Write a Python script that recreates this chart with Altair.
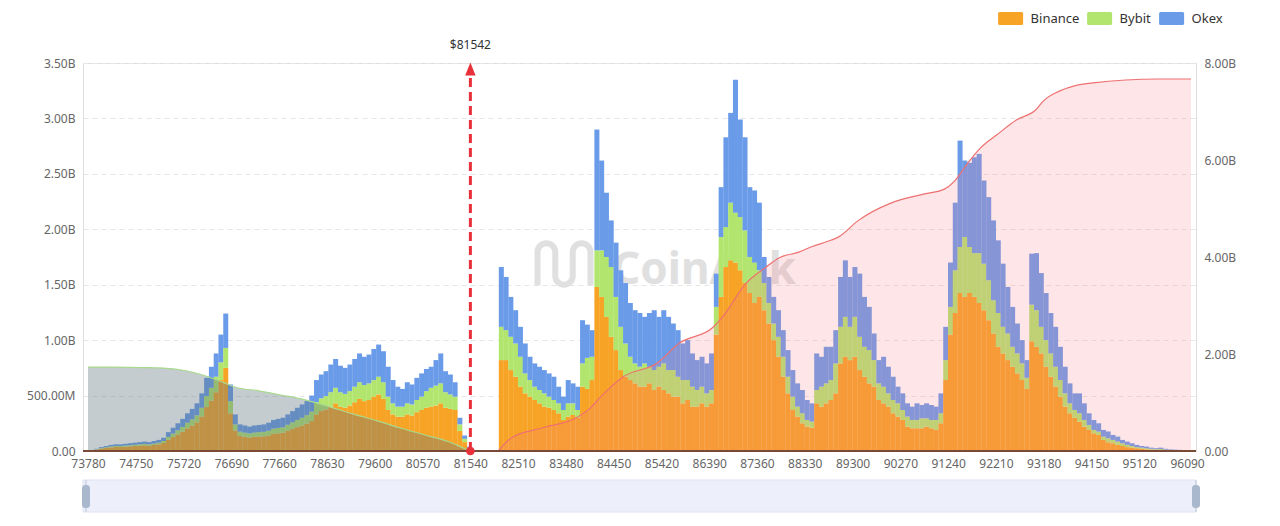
import altair as alt
import pandas as pd

# ---------------- data (values in millions USD) ----------------
EXCHANGES = ["Binance", "Bybit", "Okex"]
COLORS = ["#F7A325", "#B2E56E", "#6A9BE8"]

BIN_STEP = 97
LONG_START = 73860
SHORT_START = 82170
CURRENT_PRICE = 81542

LONG_BINANCE = [
    2, 12, 21, 27, 33, 36, 36, 39, 42, 45,
    48, 51, 48, 54, 60, 72, 102, 126, 150, 174,
    204, 228, 258, 312, 396, 456, 530, 640, 750, 340,
    185, 135, 128, 122, 128, 130, 133, 140, 155, 160,
    165, 182, 198, 215, 230, 248, 270, 330, 360, 375,
    400, 430, 400, 390, 410, 440, 470, 450, 460, 490,
    510, 470, 370, 330, 310, 310, 330, 320, 350, 370,
    390, 400, 410, 430, 390, 380, 370, 180, 80, 22,
    4]
LONG_BYBIT = [
    1, 3, 5, 7, 8, 9, 9, 10, 10, 11,
    12, 13, 12, 13, 15, 18, 25, 31, 37, 43,
    51, 57, 64, 78, 99, 114, 140, 160, 180, 110,
    55, 40, 38, 37, 38, 40, 40, 43, 47, 48,
    50, 55, 60, 65, 70, 75, 85, 110, 115, 120,
    130, 140, 130, 125, 130, 140, 150, 145, 150, 150,
    160, 150, 120, 100, 90, 90, 100, 100, 110, 120,
    150, 170, 180, 180, 140, 130, 120, 60, 30, 8,
    2]
LONG_OKEX = [
    1, 5, 9, 11, 14, 15, 15, 16, 18, 19,
    20, 21, 20, 23, 25, 30, 43, 53, 63, 73,
    85, 95, 108, 130, 165, 190, 210, 250, 310, 150,
    90, 65, 64, 61, 64, 65, 67, 72, 78, 82,
    85, 93, 102, 110, 120, 127, 145, 200, 215, 225,
    250, 260, 240, 235, 240, 250, 260, 255, 260, 280,
    290, 280, 270, 210, 180, 160, 190, 180, 200, 210,
    200, 190, 230, 270, 190, 180, 130, 60, 30, 10,
    2]

SHORT_BINANCE = [
    820, 820, 730, 670, 580, 520, 490, 460, 430, 400,
    390, 370, 340, 280, 310, 325, 300, 580, 560, 640,
    1480, 1390, 1210, 1030, 910, 730, 670, 640, 610, 580,
    580, 610, 550, 580, 550, 520, 490, 490, 430, 460,
    400, 400, 430, 400, 430, 1050, 1390, 1660, 1720, 1700,
    1630, 1515, 1425, 1335, 1390, 1270, 1150, 1000, 850, 670,
    520, 370, 310, 250, 220, 210, 430, 400, 430, 460,
    520, 790, 850, 820, 850, 730, 670, 610, 580, 460,
    430, 400, 340, 310, 280, 220, 205, 205, 205, 220,
    205, 190, 250, 640, 1050, 1245, 1425, 1390, 1425, 1390,
    1335, 1270, 1180, 1060, 940, 880, 820, 760, 700, 640,
    560, 990, 940, 880, 760, 670, 580, 490, 400, 340,
    300, 265, 220, 190, 160, 145, 100, 80, 70, 55,
    45, 35, 30, 25, 20, 15, 12, 10, 10, 7,
    5, 4, 3, 2, 2]
SHORT_BYBIT = [
    300, 270, 300, 300, 270, 180, 150, 120, 120, 120,
    100, 90, 90, 90, 120, 105, 70, 210, 280, 210,
    330, 420, 540, 630, 480, 390, 300, 210, 180, 180,
    210, 150, 180, 180, 240, 210, 240, 180, 210, 180,
    180, 150, 150, 120, 120, 250, 540, 360, 520, 450,
    480, 475, 325, 365, 240, 245, 185, 150, 180, 180,
    150, 120, 90, 90, 60, 55, 120, 180, 180, 180,
    270, 330, 360, 300, 360, 300, 270, 300, 240, 150,
    150, 120, 120, 120, 90, 90, 75, 75, 90, 75,
    75, 90, 90, 180, 250, 385, 415, 540, 415, 395,
    450, 420, 360, 300, 305, 240, 240, 180, 180, 150,
    100, 330, 330, 240, 240, 210, 180, 150, 120, 90,
    70, 75, 60, 45, 30, 30, 30, 35, 30, 30,
    25, 20, 15, 10, 10, 10, 8, 5, 8, 5,
    5, 4, 3, 3, 1]
SHORT_OKEX = [
    540, 480, 360, 300, 270, 270, 210, 210, 210, 210,
    210, 210, 150, 120, 210, 180, 210, 390, 300, 240,
    1090, 810, 580, 420, 490, 510, 545, 485, 480, 485,
    420, 485, 540, 450, 480, 480, 420, 420, 330, 360,
    300, 270, 270, 270, 330, 300, 450, 810, 810, 1200,
    880, 840, 630, 650, 610, 235, 235, 240, 240, 240,
    240, 240, 210, 210, 180, 165, 330, 270, 330, 300,
    300, 450, 510, 450, 450, 570, 450, 390, 240, 210,
    270, 240, 210, 150, 150, 120, 120, 150, 120, 135,
    135, 120, 180, 300, 400, 610, 960, 690, 760, 865,
    895, 750, 750, 720, 655, 570, 420, 360, 270, 210,
    160, 460, 515, 485, 425, 365, 360, 300, 240, 180,
    150, 180, 150, 105, 90, 75, 60, 60, 45, 45,
    30, 30, 25, 20, 15, 15, 10, 10, 12, 8,
    5, 4, 4, 3, 2]

# cumulative long liquidations (right axis, millions)
LONG_CUM_PRICE = [73780, 74343, 74826, 75309, 75792, 76275, 76557, 76758, 77241,
                  77724, 78206, 78689, 79172, 79655, 80138, 80621, 81104, 81405, 81542]
LONG_CUM_VALUE = [1730, 1730, 1720, 1710, 1650, 1510, 1400, 1320, 1240,
                  1150, 1050, 910, 760, 620, 470, 330, 190, 60, 0]

# cumulative short liquidations (right axis, millions)
SHORT_CUM_PRICE = [82110, 82371, 82975, 83719, 83981, 84182, 84645, 85329, 85792,
                   86456, 86657, 87140, 87542, 87804, 88206, 88468, 88870, 89011,
                   89413, 90077, 90761, 91164, 91365, 91626, 91888, 92230, 92632,
                   93015, 93176, 93498, 93840, 94182, 94846, 95510, 96170]
SHORT_CUM_VALUE = [0, 270, 470, 700, 890, 1110, 1530, 1810, 2230,
                   2540, 2760, 3460, 3790, 3980, 4100, 4210, 4350, 4410,
                   4750, 5110, 5300, 5400, 5560, 5920, 6240, 6520, 6830,
                   7030, 7220, 7420, 7540, 7590, 7650, 7670, 7670]

X_TICKS = [73780, 74750, 75720, 76690, 77660, 78630, 79600, 80570, 81540, 82510,
           83480, 84450, 85420, 86390, 87360, 88330, 89300, 90270, 91240, 92210,
           93180, 94150, 95120, 96090]
Y_LEFT_TICKS = [0, 500, 1000, 1500, 2000, 2500, 3000, 3500]
Y_RIGHT_TICKS = [0, 2000, 4000, 6000, 8000]

# ---------------- tables ----------------
rows = []
def add_side(start, bn, bb, ok):
    for i, vals in enumerate(zip(bn, bb, ok)):
        price = start + BIN_STEP * i
        for k, (ex, v) in enumerate(zip(EXCHANGES, vals)):
            rows.append({"price": price, "exchange": ex, "value": v, "order": k})

add_side(LONG_START, LONG_BINANCE, LONG_BYBIT, LONG_OKEX)
add_side(SHORT_START, SHORT_BINANCE, SHORT_BYBIT, SHORT_OKEX)
bars_df = pd.DataFrame(rows)
long_df = pd.DataFrame({"price": LONG_CUM_PRICE, "cum": LONG_CUM_VALUE})
short_df = pd.DataFrame({"price": SHORT_CUM_PRICE, "cum": SHORT_CUM_VALUE})
cur_df = pd.DataFrame({"price": [CURRENT_PRICE], "label": ["$" + str(CURRENT_PRICE)]})
one = pd.DataFrame({"k": [0]})

W, H = 1113, 388
FONT = "Noto Sans"
LABEL_EXPR = ("datum.value >= 1000 ? format(datum.value / 1000, '.2f') + 'B' : "
              "(datum.value > 0 ? format(datum.value, '.2f') + 'M' : '0.00')")

XSCALE = alt.Scale(domain=[73780, 96170], nice=False, zero=False)
XAXIS = alt.Axis(values=X_TICKS, format="d", title=None, grid=False, ticks=False,
                 domain=False, labelColor="#666666", labelFontSize=12, labelFont=FONT,
                 labelPadding=7, labelOverlap=False, labelFlush=False)
LSCALE = alt.Scale(domain=[0, 3500], nice=False, zero=True)
RSCALE = alt.Scale(domain=[0, 8000], nice=False, zero=True)


def X():
    return alt.X("price:Q", scale=XSCALE, axis=XAXIS)


SWATCH = ("M-0.79,-0.47 L0.79,-0.47 Q0.9,-0.47 0.9,-0.36 L0.9,0.36 Q0.9,0.47 0.79,0.47 "
          "L-0.79,0.47 Q-0.9,0.47 -0.9,0.36 L-0.9,-0.36 Q-0.9,-0.47 -0.79,-0.47 Z")
LOGO = ("M-1,0.8 L-1,-0.45 A0.335,0.335 0 0 1 -0.33,-0.45 L-0.33,0.45 "
        "A0.33,0.33 0 0 0 0.33,0.45 L0.33,-0.45 A0.335,0.335 0 0 1 1,-0.45 L1,0.8")
ARROW = "M0,-1 L0.8,1 L-0.8,1 Z"

# ---------------- layers ----------------
wm_text = alt.Chart(pd.DataFrame({"t": ["CoinAnk"]})).mark_text(
    align="left", baseline="alphabetic", fontSize=44, fontWeight="bold",
    font=FONT, color="#e0e0e0"
).encode(x=alt.value(529), y=alt.value(221), text="t:N")

wm_logo = alt.Chart(one).mark_point(
    shape=LOGO, filled=False, stroke="#e0e0e0", strokeWidth=6, size=2809, opacity=1
).encode(x=alt.value(481), y=alt.value(201))

bars = alt.Chart(bars_df).mark_bar(size=5.0).encode(
    x=X(),
    y=alt.Y("value:Q", stack="zero", scale=LSCALE,
            axis=alt.Axis(values=Y_LEFT_TICKS, labelExpr=LABEL_EXPR, title=None,
                          grid=True, gridColor="#e6e6e6", gridDash=[5, 4],
                          domain=False, ticks=False, labelColor="#666666",
                          labelFontSize=12, labelFont=FONT, labelPadding=8)),
    color=alt.Color("exchange:N", scale=alt.Scale(domain=EXCHANGES, range=COLORS),
                    legend=alt.Legend(title=None, orient="none", legendX=913.6,
                                      legendY=-58.5, direction="horizontal",
                                      symbolType=SWATCH, symbolSize=772,
                                      symbolStrokeWidth=0, symbolOpacity=1,
                                      labelFontSize=13, labelFont=FONT,
                                      labelColor="#333333", labelOffset=6,
                                      columnPadding=6, padding=0)),
    order=alt.Order("order:Q", sort="ascending"),
)

long_area = alt.Chart(long_df).mark_area(
    color="#5f7580", opacity=0.37, interpolate="monotone"
).encode(x=X(), y=alt.Y("cum:Q", scale=RSCALE, axis=None))
long_line = alt.Chart(long_df).mark_line(
    color="#a8d98e", strokeWidth=1.2, interpolate="monotone"
).encode(x=X(), y=alt.Y("cum:Q", scale=RSCALE, axis=None))

short_area = alt.Chart(short_df).mark_area(
    color="#f87d8a", opacity=0.2, interpolate="monotone"
).encode(
    x=X(),
    y=alt.Y("cum:Q", scale=RSCALE,
            axis=alt.Axis(orient="right", values=Y_RIGHT_TICKS, labelExpr=LABEL_EXPR,
                          title=None, grid=False, domain=False, ticks=False,
                          labelColor="#666666", labelFontSize=12, labelFont=FONT,
                          labelPadding=8)),
)
short_line = alt.Chart(short_df).mark_line(
    color="#ee7070", strokeWidth=1.2, interpolate="monotone"
).encode(x=X(), y=alt.Y("cum:Q", scale=RSCALE, axis=None))

baseline = alt.Chart(one).mark_rule(color="#7b4a36", strokeWidth=2).encode(
    x=alt.value(0), x2=alt.value(W), y=alt.value(H))

arrow_line = alt.Chart(cur_df).mark_rule(
    color="#e8303a", strokeWidth=3, strokeDash=[9, 5]
).encode(x=X(), y=alt.value(H), y2=alt.value(12))
arrow_head = alt.Chart(cur_df).mark_point(
    shape=ARROW, filled=True, color="#e8303a", size=169, opacity=1
).encode(x=X(), y=alt.value(6))
arrow_dot = alt.Chart(cur_df).mark_point(
    shape="circle", filled=True, color="#e8303a", size=75, opacity=1
).encode(x=X(), y=alt.value(H))
arrow_label = alt.Chart(cur_df).mark_text(
    fontSize=12, font=FONT, color="#333333", baseline="middle"
).encode(x=X(), y=alt.value(-18), text="label:N")

slider_bg = alt.Chart(one).mark_rect(color="#edf0fa", stroke="#dfe4f2", strokeWidth=1).encode(
    x=alt.value(0), x2=alt.value(W), y=alt.value(417), y2=alt.value(449))
slider_l_line = alt.Chart(one).mark_rule(color="#b9c4d8", strokeWidth=1).encode(
    x=alt.value(3), y=alt.value(417), y2=alt.value(449))
slider_r_line = alt.Chart(one).mark_rule(color="#b9c4d8", strokeWidth=1).encode(
    x=alt.value(W), y=alt.value(417), y2=alt.value(449))
handle_l = alt.Chart(one).mark_rect(color="#a9b8cd", cornerRadius=3).encode(
    x=alt.value(-1), x2=alt.value(7), y=alt.value(422), y2=alt.value(445))
handle_r = alt.Chart(one).mark_rect(color="#a9b8cd", cornerRadius=3).encode(
    x=alt.value(W - 4), x2=alt.value(W + 4), y=alt.value(422), y2=alt.value(445))

chart = alt.layer(
    wm_text, wm_logo, bars, long_area, long_line, short_area, short_line,
    baseline, arrow_line, arrow_head, arrow_dot, arrow_label,
    slider_bg, slider_l_line, slider_r_line, handle_l, handle_r
).resolve_scale(y="independent").properties(
    width=W, height=H,
    autosize=alt.AutoSizeParams(type="none"),
    padding={"left": 75, "top": 55, "right": 76, "bottom": 63},
    background="white",
).configure_view(stroke=None).configure(font=FONT)

chart.save("out.html", embed_options={"renderer": "svg", "actions": False})
